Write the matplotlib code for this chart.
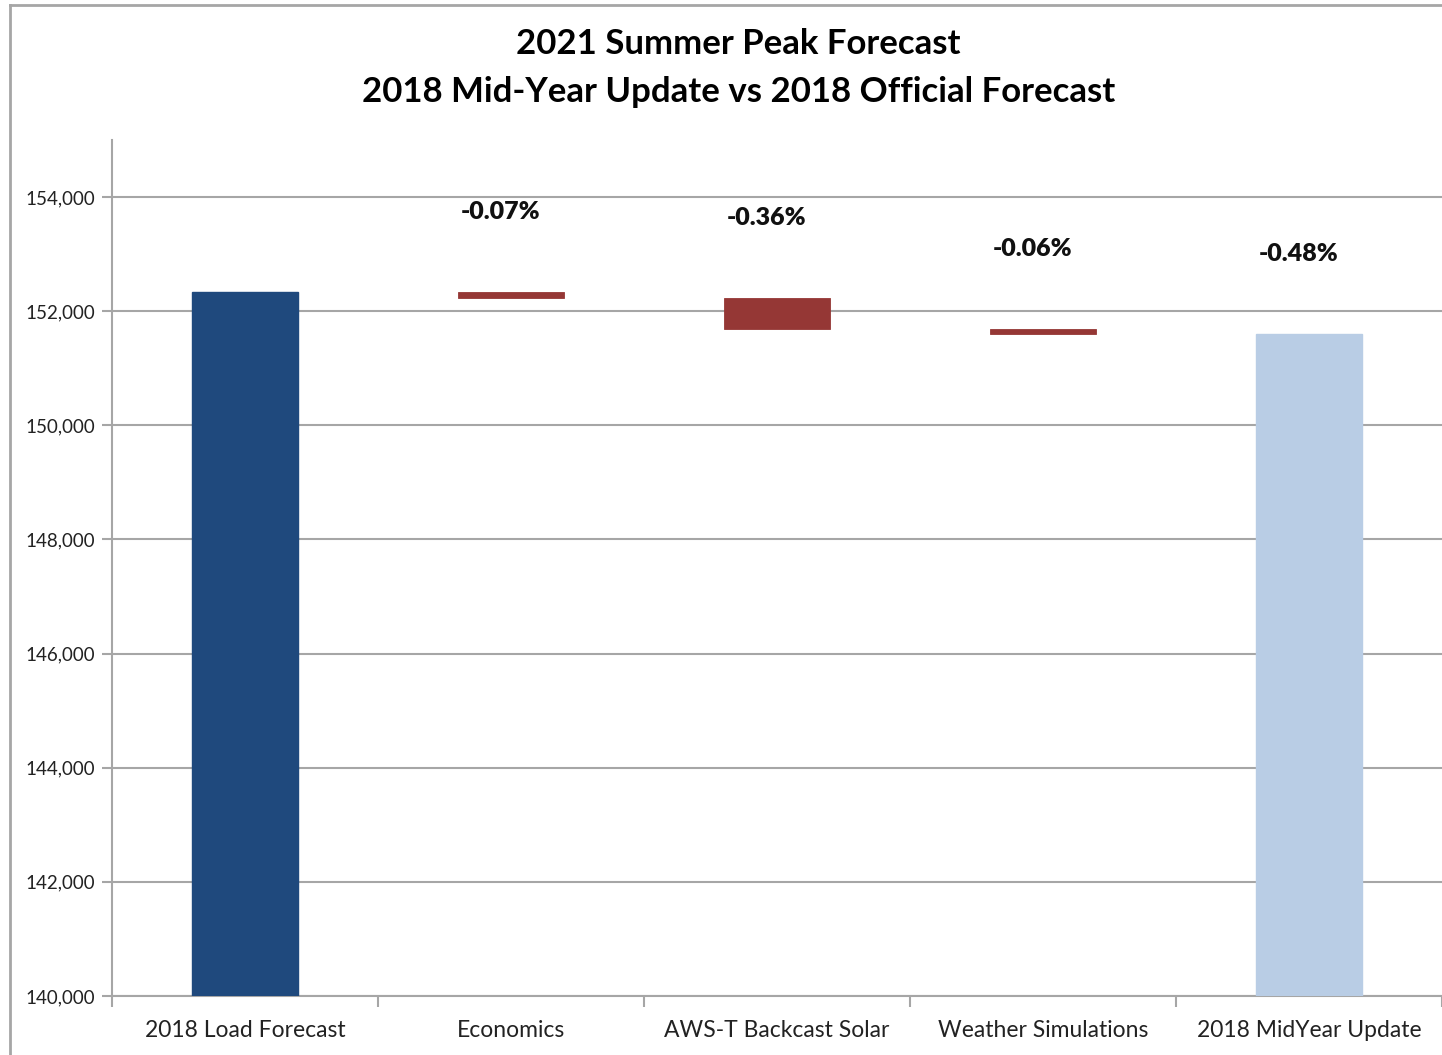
import matplotlib

matplotlib.use("Agg")
import matplotlib.pyplot as plt
from matplotlib.lines import Line2D
import numpy as np

CATEGORIES = [
    "2018 Load Forecast",
    "Economics",
    "AWS-T Backcast Solar",
    "Weather Simulations",
    "2018 MidYear Update",
]
START_VALUE = 152340
DELTAS = [-100, -550, -85]
PCT_LABELS = ["-0.07%", "-0.36%", "-0.06%", "-0.48%"]

Y_TICKS = list(range(140000, 154001, 2000))

DARK_BLUE = "#1F497D"
RED = "#953735"
LIGHT_BLUE = "#B9CDE5"
GRID = "#A6A6A6"

plt.rcParams["font.family"] = ["Lato", "DejaVu Sans"]

fig = plt.figure(figsize=(14.42, 10.55), dpi=100)
ax = fig.add_axes([112 / 1442, 1 - 996 / 1055, 1 - 112 / 1442, (996 - 140) / 1055])

x = np.arange(len(CATEGORIES))
width = 0.4

# waterfall pieces
end_value = START_VALUE + sum(DELTAS)
cum = START_VALUE
tops = []
ax.bar(x[0], START_VALUE - 140000, width, bottom=140000, color=DARK_BLUE,
       edgecolor=DARK_BLUE, linewidth=1, zorder=3)
tops.append(START_VALUE)
for i, d in enumerate(DELTAS, start=1):
    new = cum + d
    ax.bar(x[i], cum - new, width, bottom=new, color=RED, edgecolor=RED,
           linewidth=0.6, zorder=3)
    tops.append(cum)
    cum = new
ax.bar(x[-1], end_value - 140000, width, bottom=140000, color=LIGHT_BLUE,
       edgecolor=LIGHT_BLUE, linewidth=1, zorder=3)
tops.append(end_value)

for i, lab in enumerate(PCT_LABELS, start=1):
    ax.annotate(lab, (x[i], tops[i]), textcoords="offset pixels",
                xytext=(-10, 80), ha="center", va="center",
                fontsize=18, fontweight="heavy", color="#111111")

ax.set_xlim(-0.5, len(CATEGORIES) - 0.5)
ax.set_ylim(140000, 155000)
ax.set_yticks(Y_TICKS)
ax.set_yticklabels([f"{v:,}" for v in Y_TICKS], fontsize=13.5, color="#222222")
ax.yaxis.grid(True, color=GRID, linewidth=1.5, zorder=0)

ax.set_xticks(x)
ax.set_xticklabels(CATEGORIES, fontsize=16.5, color="#222222")
ax.tick_params(axis="x", length=0, pad=17)
ax.set_xticks(np.arange(-0.5, len(CATEGORIES)), minor=True)
ax.tick_params(axis="x", which="minor", length=8, width=1.5, color=GRID)
ax.tick_params(axis="y", length=7, width=1.5, color=GRID, pad=5)

for side in ["top", "right"]:
    ax.spines[side].set_visible(False)
for side in ["left", "bottom"]:
    ax.spines[side].set_color(GRID)
    ax.spines[side].set_linewidth(1.5)
ax.set_axisbelow(True)

fig.text(0.512, 1 - 44 / 1055, "2021 Summer Peak Forecast", ha="center",
         va="center", fontsize=25, fontweight="bold")
fig.text(0.512, 1 - 92 / 1055, "2018 Mid-Year Update vs 2018 Official Forecast",
         ha="center", va="center", fontsize=25, fontweight="bold")

# chart frame
fig.add_artist(Line2D([10 / 1442, 10 / 1442], [0, 1 - 5 / 1055], color=GRID,
                      linewidth=2, transform=fig.transFigure))
fig.add_artist(Line2D([10 / 1442, 1], [1 - 5 / 1055, 1 - 5 / 1055], color=GRID,
                      linewidth=2, transform=fig.transFigure))

fig.savefig("out.png", dpi=100)
